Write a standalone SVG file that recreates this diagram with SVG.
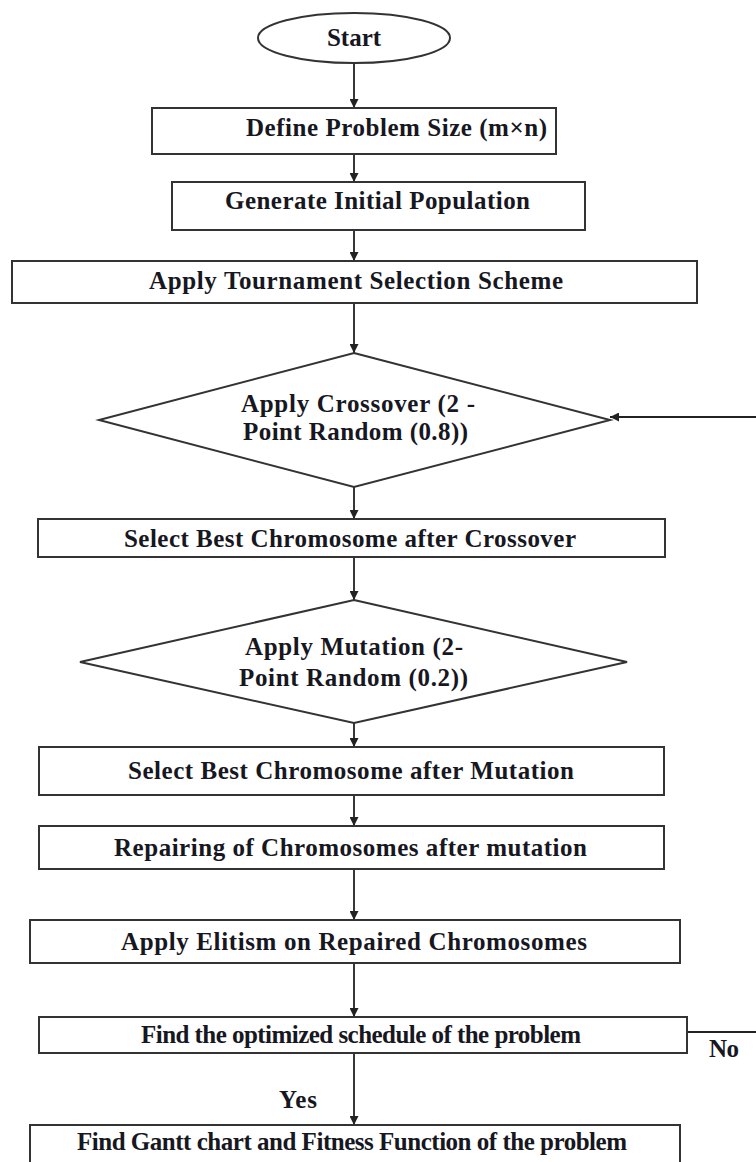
<svg xmlns="http://www.w3.org/2000/svg" width="756" height="1162" viewBox="0 0 756 1162">
<style>
.box{fill:#fff;stroke:#333;stroke-width:2}
.t{font-family:"Liberation Serif","Times New Roman",serif;font-weight:bold;font-size:25px;fill:#17171f}
.c{stroke:#222;stroke-width:1.8;fill:none}
</style>
<defs>
<marker id="ah" viewBox="0 0 10 10" refX="10" refY="5" markerWidth="5" markerHeight="5" orient="auto" markerUnits="strokeWidth">
<path d="M0,0 L10,5 L0,10 z" fill="#222"/>
</marker>
</defs>
<rect width="756" height="1162" fill="#fff"/>
<g id="connectors">
<path class="c" marker-end="url(#ah)" d="M354,63 V108"/>
<path class="c" marker-end="url(#ah)" d="M354,154 V182"/>
<path class="c" marker-end="url(#ah)" d="M354,230 V261"/>
<path class="c" marker-end="url(#ah)" d="M354,303 V353"/>
<path class="c" marker-end="url(#ah)" d="M354,487 V519"/>
<path class="c" marker-end="url(#ah)" d="M354,557 V600"/>
<path class="c" marker-end="url(#ah)" d="M354,723 V747"/>
<path class="c" marker-end="url(#ah)" d="M354,795 V826"/>
<path class="c" marker-end="url(#ah)" d="M354,869 V920"/>
<path class="c" marker-end="url(#ah)" d="M354,963 V1017"/>
<path class="c" marker-end="url(#ah)" d="M354,1053 V1125"/>
<path class="c" marker-end="url(#ah)" d="M687,1032 H759 V417 H610"/>
<text class="t" x="279" y="1108" textLength="38">Yes</text>
<text class="t" x="709" y="1057" textLength="30">No</text>
</g>
<g id="start">
<ellipse class="box" cx="354" cy="38" rx="96" ry="25"/>
<text class="t" x="354" y="46" text-anchor="middle">Start</text>
</g>
<g id="define">
<rect class="box" x="152" y="108" width="404" height="46"/>
<text class="t" x="246" y="136" textLength="301">Define Problem Size (m×n)</text>
</g>
<g id="generate">
<rect class="box" x="172" y="182" width="413" height="48"/>
<text class="t" x="225" y="209" textLength="305">Generate Initial Population</text>
</g>
<g id="tournament">
<rect class="box" x="12" y="261" width="685" height="42"/>
<text class="t" x="149" y="289" textLength="414">Apply Tournament Selection Scheme</text>
</g>
<g id="crossover">
<polygon class="box" points="354,353 610,420 354,487 99,420"/>
<text class="t" x="241" y="412" textLength="234">Apply Crossover (2 -</text>
<text class="t" x="243" y="440" textLength="225">Point Random (0.8))</text>
</g>
<g id="best-crossover">
<rect class="box" x="38" y="519" width="627" height="38"/>
<text class="t" x="124" y="547" textLength="452">Select Best Chromosome after Crossover</text>
</g>
<g id="mutation">
<polygon class="box" points="354,600 627,662 354,723 80,662"/>
<text class="t" x="245" y="655" textLength="218">Apply Mutation (2-</text>
<text class="t" x="239" y="686" textLength="229">Point Random (0.2))</text>
</g>
<g id="best-mutation">
<rect class="box" x="39" y="747" width="625" height="48"/>
<text class="t" x="128" y="779" textLength="446">Select Best Chromosome after Mutation</text>
</g>
<g id="repair">
<rect class="box" x="39" y="826" width="625" height="43"/>
<text class="t" x="114" y="856" textLength="473">Repairing of Chromosomes after mutation</text>
</g>
<g id="elitism">
<rect class="box" x="30" y="920" width="650" height="43"/>
<text class="t" x="121" y="950" textLength="466">Apply Elitism on Repaired Chromosomes</text>
</g>
<g id="optimized">
<rect class="box" x="39" y="1017" width="648" height="36"/>
<text class="t" x="141" y="1043" textLength="440">Find the optimized schedule of the problem</text>
</g>
<g id="gantt">
<rect class="box" x="30" y="1125" width="650" height="50"/>
<text class="t" x="77" y="1150" textLength="550">Find Gantt chart and Fitness Function of the problem</text>
</g>
</svg>
